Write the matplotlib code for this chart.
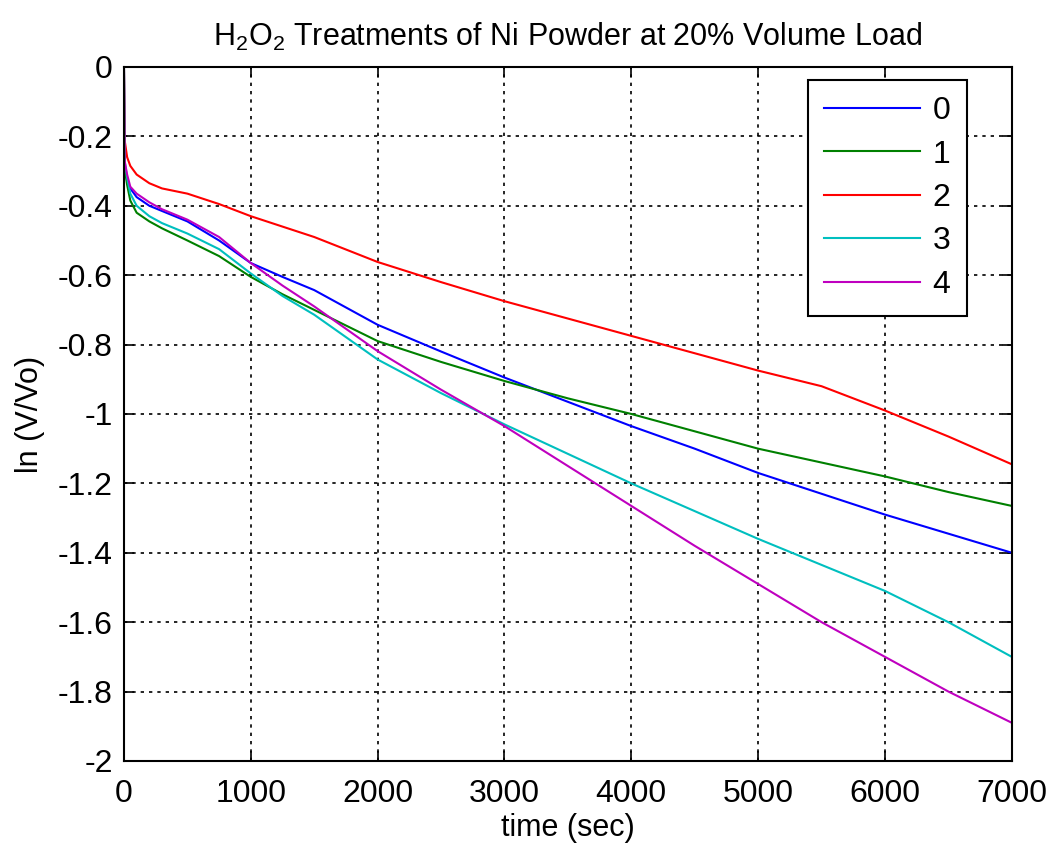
import numpy as np
import matplotlib
matplotlib.use('Agg')
import matplotlib.pyplot as plt

plt.rcParams['font.family'] = ['Liberation Sans', 'DejaVu Sans']

# tempo (s) e ln(V/Vo)
t0 = [0, 5, 25, 50, 100, 200, 300, 500, 750, 1000, 1250, 1500, 2000, 2500,
      3000, 3500, 4000, 4500, 5000, 5500, 6000, 6500, 7000]
serie0 = [0, -0.28, -0.33, -0.35, -0.375, -0.40, -0.415, -0.445, -0.50, -0.565, -0.605, -0.643,
          -0.743, -0.82, -0.895, -0.965, -1.035, -1.10, -1.17, -1.23, -1.29, -1.345, -1.40]
serie1 = [0, -0.29, -0.34, -0.385, -0.42, -0.445, -0.465, -0.50, -0.545, -0.605, -0.655, -0.70,
          -0.79, -0.85, -0.905, -0.955, -1.0, -1.05, -1.10, -1.14, -1.18, -1.225, -1.265]
serie2 = [0, -0.21, -0.26, -0.285, -0.31, -0.335, -0.35, -0.365, -0.395, -0.43, -0.46, -0.49,
          -0.562, -0.62, -0.675, -0.725, -0.775, -0.825, -0.875, -0.92, -0.99, -1.065, -1.145]
serie3 = [0, -0.27, -0.32, -0.365, -0.40, -0.43, -0.45, -0.48, -0.525, -0.595, -0.66, -0.714,
          -0.843, -0.94, -1.03, -1.115, -1.2, -1.28, -1.36, -1.435, -1.51, -1.60, -1.70]
serie4 = [0, -0.27, -0.31, -0.345, -0.365, -0.39, -0.41, -0.44, -0.49, -0.565, -0.63, -0.69,
          -0.819, -0.93, -1.035, -1.15, -1.265, -1.38, -1.49, -1.60, -1.70, -1.80, -1.89]

series = [serie0, serie1, serie2, serie3, serie4]
rotulos = ['0', '1', '2', '3', '4']
cores = ['#0000ff', '#008000', '#ff0000', '#00bfbf', '#bf00bf']

fig = plt.figure(figsize=(10.47, 8.49), dpi=100)
ax = fig.add_axes([0.1184, 0.1037, 0.848, 0.8174])

for s, r, c in zip(series, rotulos, cores):
    ax.plot(t0, s, color=c, lw=1.5, label=r)

ax.set_xlim(0, 7000)
ax.set_ylim(-2, 0)
ax.set_xticks(np.arange(0, 7001, 1000))
ax.set_yticks(np.arange(-2, 0.01, 0.2))
ax.set_yticklabels(['-2', '-1.8', '-1.6', '-1.4', '-1.2', '-1', '-0.8', '-0.6', '-0.4', '-0.2', '0'])
ax.grid(True, color='black', linestyle=(0, (2, 3)), lw=1.2)
ax.tick_params(direction='in', top=True, right=True, labelsize=23, length=7, width=1.2)
ax.tick_params(axis='x', pad=13)
ax.tick_params(axis='y', pad=8)
for sp in ax.spines.values():
    sp.set_linewidth(1.5)

ax.set_xlabel('time (sec)', fontsize=22, labelpad=3)
ax.set_ylabel('ln (V/Vo)', fontsize=22, labelpad=9)
ax.set_title(r'$\mathregular{H_2O_2}$ Treatments of Ni Powder at 20% Volume Load', fontsize=22, pad=15)

leg = ax.legend(loc='upper right', bbox_to_anchor=(0.949, 0.981), fontsize=23, fancybox=False,
                edgecolor='black', framealpha=1, handlelength=3.0, labelspacing=0.42,
                borderpad=0.5, handletextpad=0.4, borderaxespad=0)
leg.get_frame().set_linewidth(1.5)

fig.savefig('out.png', dpi=100)
